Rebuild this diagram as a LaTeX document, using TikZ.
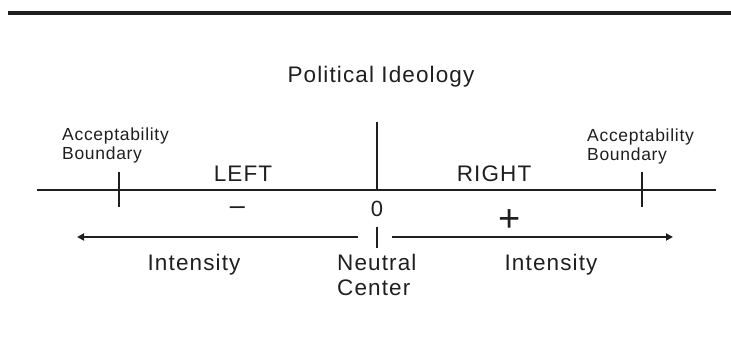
\documentclass[tikz,border=0pt]{standalone}
\usepackage{fontspec}
\setmainfont{Liberation Sans}
\newfontfamily\labfont[LetterSpace=5]{Liberation Sans}
\newfontfamily\smallfont[LetterSpace=4]{Liberation Sans}
\usetikzlibrary{arrows.meta}
\definecolor{ink}{gray}{0.12}
\tikzset{
  lbl/.style={inner sep=0pt, text=ink, font=\labfont\fontsize{22.5}{26}\selectfont},
  small/.style={inner sep=0pt, text=ink, align=left, font=\smallfont\fontsize{17.5}{19}\selectfont},
  sym/.style={inner sep=0pt, text=ink},
  thin/.style={draw=ink, line width=1.3pt},
  tick/.style={draw=ink, line width=2.6pt},
  arr/.style={draw=ink, line width=2pt, -{Triangle[length=7pt,width=7pt]}}
}
\begin{document}
\begin{tikzpicture}[x=1pt,y=-1pt]
\useasboundingbox (0,0) rectangle (731,352);
% top rule
\coordinate (r1) at (8,13);
\coordinate (r2) at (731,13);
\draw[draw=ink, line width=3.5pt] (r1) -- (r2);
% title
\node[lbl, anchor=base] (title) at (381,83) {Political Ideology};
% axis
\coordinate (axL) at (37,190);
\coordinate (axR) at (716,190);
\coordinate (axC) at (377,190);
\coordinate (cTop) at (377,122);
\draw[thin] (axL) -- (axR);
\draw[thin] (cTop) -- (axC);
% boundary ticks
\coordinate (lt1) at (119,172); \coordinate (lt2) at (119,207);
\coordinate (rt1) at (642,172); \coordinate (rt2) at (642,207);
\draw[tick] (lt1) -- (lt2);
\draw[tick] (rt1) -- (rt2);
% labels
\node[small, anchor=base west] (accL) at (62,160) {Acceptability\\Boundary};
\node[small, anchor=base west] (accR) at (587,161) {Acceptability\\Boundary};
\node[lbl, anchor=base] (left) at (243,182) {LEFT};
\node[lbl, anchor=base] (right) at (494,182) {RIGHT};
\node[sym, anchor=base, font=\fontsize{27}{30}\selectfont] (minus) at (237.5,215) {–};
\node[sym, anchor=base, font=\fontsize{22}{25}\selectfont] (zero) at (377,217) {0};
\node[sym, anchor=base, font=\fontsize{38}{40}\selectfont] (plus) at (510,232) {+};
% lower tick and arrows
\coordinate (bt1) at (377,227); \coordinate (bt2) at (377,248);
\draw[draw=ink, line width=1.5pt] (bt1) -- (bt2);
\coordinate (aLs) at (358,237); \coordinate (aLe) at (77,237);
\coordinate (aRs) at (392,237); \coordinate (aRe) at (673,237);
\draw[arr] (aLs) -- (aLe);
\draw[arr] (aRs) -- (aRe);
% bottom labels
\node[lbl, anchor=base] (intL) at (194,271) {Intensity};
\node[lbl, anchor=base] (intR) at (551,271) {Intensity};
\node[lbl, anchor=base west, align=left, font=\labfont\fontsize{22.5}{25}\selectfont] (neutral) at (337,296) {Neutral\\Center};
\end{tikzpicture}
\end{document}
